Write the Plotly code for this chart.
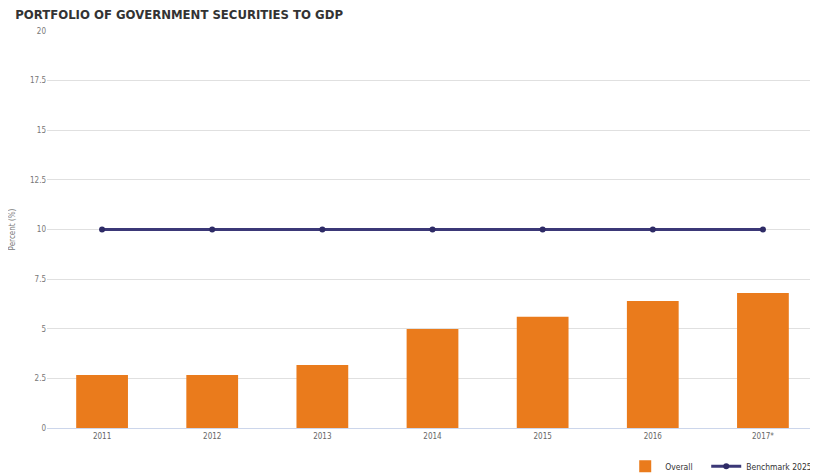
import plotly.graph_objects as go

categories = ["2011", "2012", "2013", "2014", "2015", "2016", "2017*"]
overall = [2.67, 2.67, 3.17, 4.99, 5.6, 6.4, 6.8]
benchmark = [10, 10, 10, 10, 10, 10, 10]
y_ticks = [0, 2.5, 5, 7.5, 10, 12.5, 15, 17.5, 20]
y_tick_labels = ["0", "2.5", "5", "7.5", "10", "12.5", "15", "17.5", "20"]

FONT = "DejaVu Sans Condensed, DejaVu Sans"

fig = go.Figure()
fig.add_trace(go.Bar(
    x=categories, y=overall, name="Overall",
    marker=dict(color="#EA7B1C", line=dict(width=0)),
    width=0.47, legend="legend",
))
fig.add_trace(go.Scatter(
    x=categories, y=benchmark, name="Benchmark 2025",
    mode="lines+markers",
    line=dict(color="#3B3877", width=3),
    marker=dict(color="#2E2B66", size=6),
    legend="legend2",
))

legend_common = dict(orientation="h", xanchor="left", xref="container",
                     y=-0.06, yanchor="top",
                     font=dict(size=8.5, color="#333", family=FONT),
                     bgcolor="rgba(0,0,0,0)")

fig.update_layout(
    width=810, height=465,
    margin=dict(l=39, r=0, t=23, b=45, autoexpand=False),
    paper_bgcolor="white", plot_bgcolor="white",
    font=dict(family=FONT, color="#666"),
    title=dict(text="<b>PORTFOLIO OF GOVERNMENT SECURITIES TO GDP</b>",
               x=0.009, xanchor="left", y=0.996, yanchor="top",
               pad=dict(t=0, b=0, l=0, r=0),
               font=dict(size=13, color="#333", family=FONT)),
    showlegend=True,
    legend=dict(x=0.762, **legend_common),
    legend2=dict(x=0.862, **legend_common),
    bargap=0.53,
)
fig.update_xaxes(
    showgrid=False, showline=True, linecolor="#ccd6eb", linewidth=1,
    tickfont=dict(size=8, color="#666", family=FONT), ticks="",
)
fig.update_yaxes(
    range=[0, 20], tickvals=y_ticks, ticktext=y_tick_labels,
    showgrid=True, gridcolor="#e0e0e0", gridwidth=1, zeroline=False,
    tickfont=dict(size=8, color="#777", family=FONT),
    title=dict(text="Percent (%)", font=dict(size=8, color="#777", family=FONT),
               standoff=16),
)

fig.write_html("out.html")
